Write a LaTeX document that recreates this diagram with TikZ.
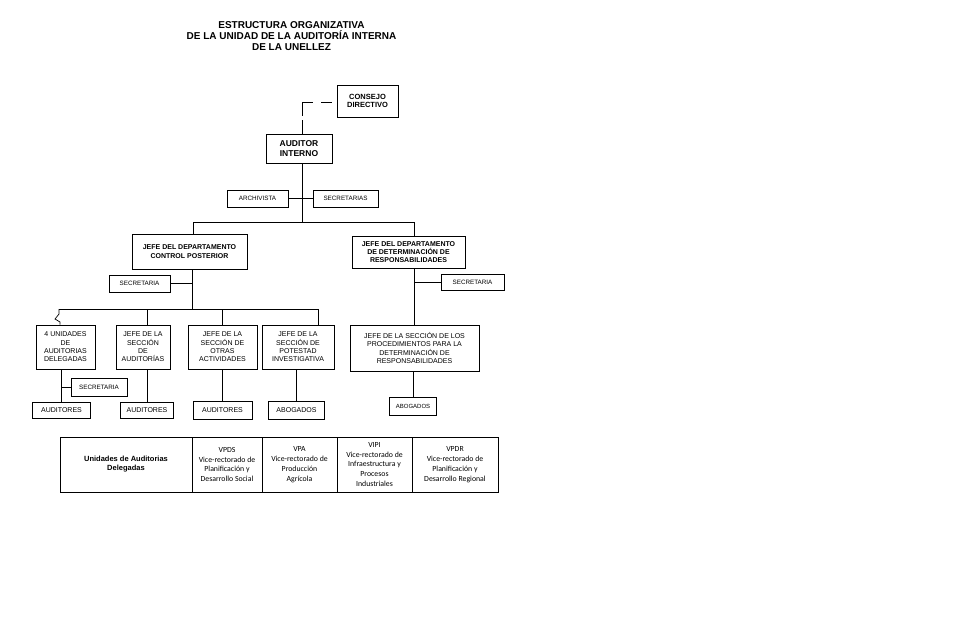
\documentclass[tikz,border=0pt]{standalone}
\usepackage{fontspec}
\setmainfont{Liberation Sans}
\newfontfamily\tablefont{Carlito}
\usetikzlibrary{positioning,calc}

\begin{document}
\begin{tikzpicture}[x=1pt,y=-1pt,
  unit/.style={draw,line width=0.8pt,inner sep=0pt,align=center,font=\fontsize{7}{8.3}\selectfont},
  head/.style={unit,font=\bfseries\fontsize{7}{9}\selectfont},
  aide/.style={unit,font=\fontsize{6.3}{6.5}\selectfont},
  link/.style={line width=0.7pt},
  tie/.style={line width=0.7pt,dash pattern=on 11pt off 8pt},
  cell/.style={draw,line width=0.8pt,inner sep=0pt,align=center,minimum height=55pt,font=\tablefont\fontsize{7.8}{9.8}\selectfont}
]
\useasboundingbox (0,0) rectangle (960,616);
\node[font=\bfseries\fontsize{10}{11}\selectfont,align=center] (title) at (291.5,35.7)
  {ESTRUCTURA ORGANIZATIVA\\DE LA UNIDAD DE LA AUDITORÍA INTERNA\\DE LA UNELLEZ};
% top levels
\node[head,font=\bfseries\fontsize{7.5}{8.5}\selectfont,minimum width=61pt,minimum height=32pt] (consejo) at (367.5,101) {CONSEJO\\DIRECTIVO};
\node[head,font=\bfseries\fontsize{8.5}{10}\selectfont,minimum width=66pt,minimum height=29pt] (auditor) at (299,148.5) {AUDITOR\\INTERNO};
\node[aide,minimum width=61pt,minimum height=17pt] (archivista) at (257.5,198.5) {ARCHIVISTA};
\node[aide,minimum width=65pt,minimum height=17pt] (secretarias) at (345.5,198.5) {SECRETARIAS};
\node[head,minimum width=115pt,minimum height=35pt] (dptocp) at (189.5,251.5) {JEFE DEL DEPARTAMENTO\\CONTROL POSTERIOR};
\node[head,font=\bfseries\fontsize{7}{7.8}\selectfont,minimum width=113pt,minimum height=32pt] (dptodr) at (408.5,252) {JEFE DEL DEPARTAMENTO\\DE DETERMINACIÓN  DE\\RESPONSABILIDADES};
\node[aide,minimum width=61pt,minimum height=17pt] (secl) at (139.5,283.5) {SECRETARIA};
\node[aide,minimum width=63pt,minimum height=16pt] (secr) at (472.5,282) {SECRETARIA};
% sections
\node[unit,minimum width=59pt,minimum height=44pt] (unid) at (65.5,347) {4 UNIDADES\\DE\\AUDITORIAS\\DELEGADAS};
\node[unit,minimum width=54pt,minimum height=44pt] (secaud) at (143,347) {JEFE DE LA\\SECCIÓN\\DE\\AUDITORÍAS};
\node[unit,minimum width=69pt,minimum height=44pt] (otras) at (222.5,347) {JEFE DE LA\\SECCIÓN DE\\OTRAS\\ACTIVIDADES};
\node[unit,minimum width=72pt,minimum height=44pt] (potestad) at (298,347) {JEFE DE LA\\SECCIÓN  DE\\POTESTAD\\INVESTIGATIVA};
\node[unit,minimum width=129pt,minimum height=46pt] (proc) at (414.5,348) {JEFE DE LA SECCIÓN DE LOS\\PROCEDIMIENTOS PARA LA\\DETERMINACIÓN  DE\\RESPONSABILIDADES};
\node[aide,minimum width=56pt,minimum height=18pt] (secu) at (99,387) {SECRETARIA};
% staff
\node[unit,minimum width=58pt,minimum height=16pt] (aud1) at (61.5,410) {AUDITORES};
\node[unit,minimum width=53pt,minimum height=16pt] (aud2) at (147,410) {AUDITORES};
\node[unit,minimum width=59pt,minimum height=18pt] (aud3) at (222.5,410) {AUDITORES};
\node[unit,minimum width=56pt,minimum height=18pt] (abog1) at (296.5,410) {ABOGADOS};
\node[unit,font=\fontsize{6}{7}\selectfont,minimum width=47pt,minimum height=18pt] (abog2) at (413,406) {ABOGADOS};
% junctions
\coordinate (busA) at (193,222);
\coordinate (busB) at (414,222);
\coordinate (top) at (302,222);
\coordinate (bend) at (302,102);
\coordinate (cpA) at (59,309);
\coordinate (cpB) at (318,309);
\coordinate (cpM) at (192,309);
% connectors
\draw[tie] (bend) -- (bend -| consejo.west);
\draw[link,dash pattern=on 14pt off 4pt] (bend) -- (auditor.north -| bend);
\draw[link] (auditor.south -| top) -- (top);
\draw[link] (archivista) -- (secretarias);
\draw[link] (busA) -- (busB);
\draw[link] (busA) -- (busA |- dptocp.north);
\draw[link] (busB) -- (busB |- dptodr.north);
\draw[link] (dptocp.south -| cpM) -- (cpM);
\draw[link] (secl) -- (secl -| cpM);
\draw[link] (cpA) -- (cpB);
\draw[link] (cpA) -- ++(0,5) -- ++(-4,5) -- ++(5,3) -- (unid.north -| {$(cpA)+(1,0)$});
\foreach \n/\x in {secaud/147,otras/222,potestad/318}{
  \coordinate (d\n) at (\x,309);
  \draw[link] (d\n) -- (d\n |- \n.north);
}
\draw[link] (aud1.north) -- (aud1.north |- unid.south);
\draw[link] (secu.west) -- (secu.west -| aud1.north);
\draw[link] (aud2.north) -- (aud2.north |- secaud.south);
\draw[link] (aud3.north) -- (aud3.north |- otras.south);
\draw[link] (abog1.north) -- (abog1.north |- potestad.south);
\draw[link] (dptodr.south -| busB) -- (busB |- proc.north);
\draw[link] (secr.west) -- (secr.west -| busB);
\draw[link] (abog2.north) -- (abog2.north |- proc.south);
% table of delegated units
\node[cell,minimum width=132pt,font=\bfseries\fontsize{7.5}{9}\selectfont] (t1) at (126,464.5) {Unidades de Auditorias\\Delegadas};
\node[cell,minimum width=70pt] (t2) at (227,464.5) {VPDS\\Vice-rectorado de\\Planificación y\\Desarrollo Social};
\node[cell,minimum width=75pt] (t3) at (299.5,464.5) {VPA\\Vice-rectorado de\\Producción\\Agrícola};
\node[cell,minimum width=75pt] (t4) at (374.5,464.5) {VIPI\\Vice-rectorado de\\Infraestructura y\\Procesos\\Industriales};
\node[cell,minimum width=86pt] (t5) at (455,464.5) {VPDR\\Vice-rectorado de\\Planificación y\\Desarrollo Regional};
\end{tikzpicture}
\end{document}
